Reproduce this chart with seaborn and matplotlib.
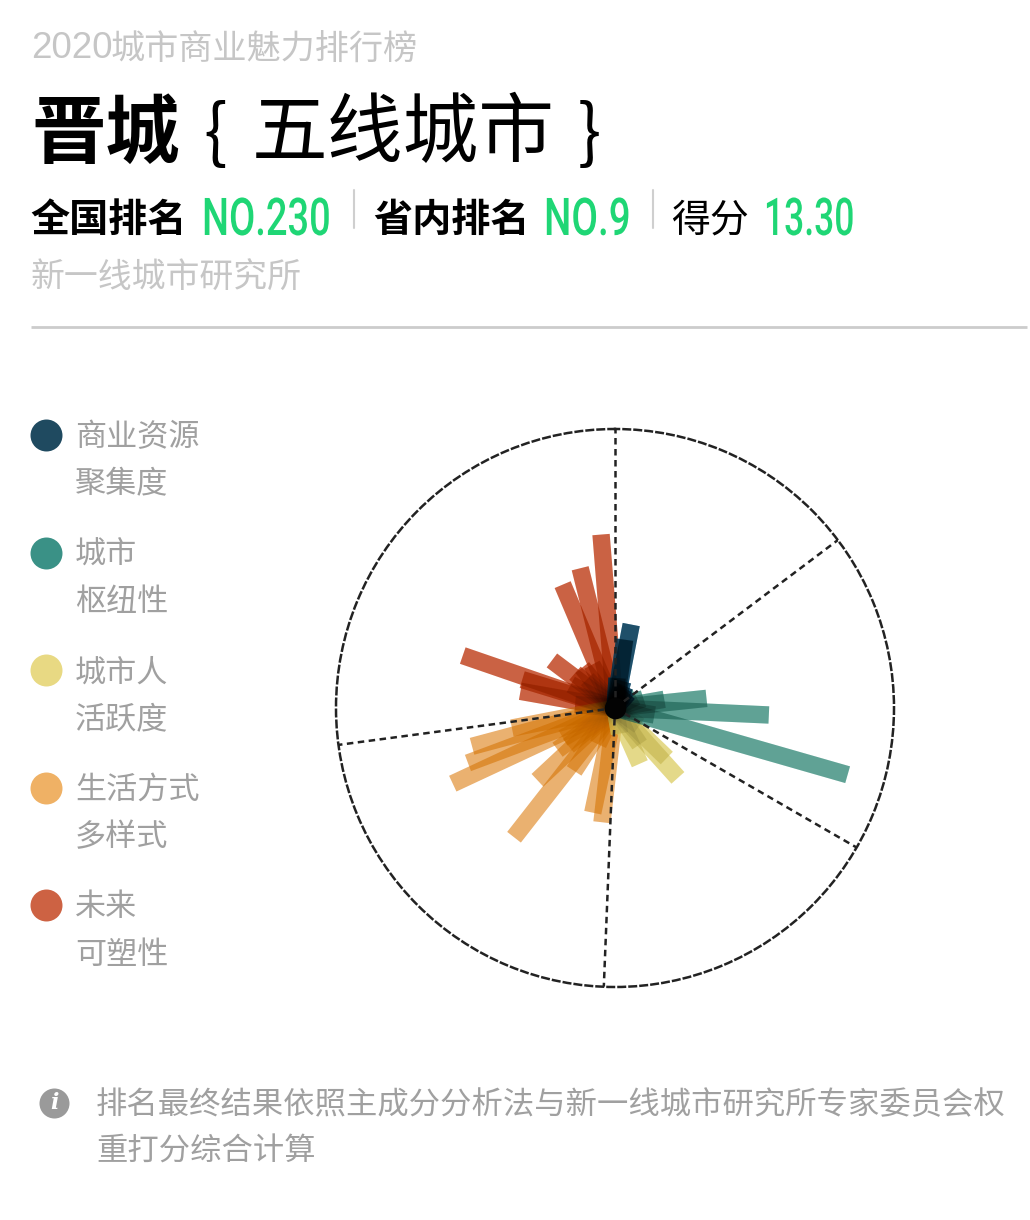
import numpy as np
import pandas as pd
import matplotlib.pyplot as plt
import matplotlib.patheffects as pe
from matplotlib.transforms import Affine2D
import seaborn as sns

plt.switch_backend('Agg')

# bar directions (degrees clockwise from north) and lengths, one pair of lists per dimension
blue_angle = [11, 8, 16, 24, 32, 42, 4]
blue_len = [85, 69, 28, 24, 22, 20, 30]
teal_angle = [106, 92.6, 84, 80, 100, 72, 62]
teal_len = [242, 154, 92, 50, 40, 30, 24]
yellow_angle = [138, 134, 156, 146, 126, 170]
yellow_len = [94, 72, 61, 44, 30, 26]
orange_angle = [186.5, 192, 218, 227, 234, 245, 249.5, 255, 259, 205, 231, 240, 213]
orange_len = [115, 107, 164, 106, 71, 179, 157, 148, 105, 40, 60, 60, 75]
red_angle = [289, 287, 280, 307, 337, 346, 355.4, 311, 321, 332, 298, 316, 275]
red_len = [161, 97, 96, 79, 134, 144, 174, 53, 52, 49, 50, 40, 40]
spoke_angle = [0, 53, 120, 182.3, 262.4]

legend_names = [('商业资源', '聚集度'), ('城市', '枢纽性'), ('城市人', '活跃度'),
                ('生活方式', '多样式'), ('未来', '可塑性')]
legend_colors = ['#1f4a60', '#3a9186', '#e8d983', '#efb165', '#cd6243']

GRAY = '#c6c6c6'
TEXT_GRAY = '#a0a0a0'
GREEN = '#1fd675'
R_MAX = 279
BAR_LW = 12.5


class Squeeze(pe.AbstractPathEffect):
    """Condense a text horizontally, there is no condensed font to hand."""

    def __init__(self, sx):
        super().__init__()
        self.sx = sx

    def draw_path(self, renderer, gc, tpath, affine, rgbFace=None):
        renderer.draw_path(gc, tpath, Affine2D().scale(self.sx, 1) + affine, rgbFace)


def bar_table(angles, lengths):
    rows = []
    for i, (a, r) in enumerate(zip(angles, lengths)):
        rows.append({'bar': i, 'theta': np.deg2rad(a), 'r': 0})
        rows.append({'bar': i, 'theta': np.deg2rad(a), 'r': r})
    return pd.DataFrame(rows)


sns.set_theme(style='white')
plt.rcParams['font.family'] = ['Noto Sans CJK SC', 'DejaVu Sans']

fig = plt.figure(figsize=(10.3, 12.2), dpi=100)

# polar chart, one data unit = one pixel
ax = fig.add_axes([336 / 1030, 1 - 987 / 1220, 558 / 1030, 558 / 1220], projection='polar')
ax.set_theta_zero_location('N')
ax.set_theta_direction(-1)

# angles, lengths, colour, colour alpha, shade alpha
layers = [
    (red_angle, red_len, '#d73100', 0.7, 0.1),
    (orange_angle, orange_len, '#e27800', 0.55, 0.02),
    (yellow_angle, yellow_len, '#f6e469', 0.7, 0.08),
    (teal_angle, teal_len, '#41b69f', 0.7, 0.2),
    (blue_angle, blue_len, '#0976b1', 0.8, 0.45),
]

# colours first, then a black pass over every bar so overlaps multiply down
for angles, lengths, color, alpha, shade in layers:
    sns.lineplot(data=bar_table(angles, lengths), x='theta', y='r', units='bar', estimator=None,
                 sort=False, color=color, alpha=alpha, lw=BAR_LW, solid_capstyle='butt', ax=ax,
                 legend=False)
for angles, lengths, color, alpha, shade in layers:
    sns.lineplot(data=bar_table(angles, lengths), x='theta', y='r', units='bar', estimator=None,
                 sort=False, color='black', alpha=shade, lw=BAR_LW, solid_capstyle='butt', ax=ax,
                 legend=False, zorder=3)

sns.lineplot(data=bar_table(spoke_angle, [R_MAX] * len(spoke_angle)), x='theta', y='r', units='bar',
             estimator=None, sort=False, color='#222222', lw=1.8, ls=(0, (2.6, 1.8)), ax=ax,
             legend=False, zorder=4)

# black core where all the bars pile up
sns.scatterplot(x=[0], y=[0], s=240, color='#030303', linewidth=0, ax=ax, zorder=5, legend=False)

ax.set_rmax(R_MAX)
ax.set_rmin(0)
ax.set_xticks([])
ax.set_yticks([])
ax.set_xlabel('')
ax.set_ylabel('')
ax.grid(False)
ax.spines['polar'].set_linestyle((0, (2.6, 1.8)))
ax.spines['polar'].set_linewidth(1.8)
ax.spines['polar'].set_edgecolor('#222222')

# overlay in image pixels for header, legend and footer
page = fig.add_axes([0, 0, 1, 1], facecolor='none')
page.set_xlim(0, 1030)
page.set_ylim(1220, 0)
page.axis('off')


def put(x, y, s, size, color='black', weight='normal', **kw):
    page.text(x, y, s, fontsize=size, color=color, fontweight=weight, ha='left', va='center', **kw)


def put_number(x, y, s, sx):
    page.text(x, y, s, fontsize=37.5, color=GREEN, family='Roboto', fontweight='medium', ha='left',
              va='center', path_effects=[Squeeze(sx)])


put(31, 49, '2020', 26.5, GRAY, family='Liberation Sans')
put(111, 50, '城市商业魅力排行榜', 24.6, GRAY, 'light')
put(31, 135, '晋城', 53.5, weight='bold')
put(203, 135, '{', 50, weight='light')
put(252, 135, '五线城市', 54.5, weight='normal')
put(578, 135, '}', 50, weight='light')

put(30, 220, '全国排名', 28.2, weight='bold')
put_number(202, 221, 'NO.230', 0.73)
put(373, 220, '省内排名', 28.2, weight='bold')
put_number(544, 221, 'NO.9', 0.74)
put(671, 220, '得分', 28)
put_number(764, 221, '13.30', 0.68)
for x in [354, 653]:
    page.plot([x, x], [190, 228], color='#cfcfcf', lw=1.5)

put(31, 278, '新一线城市研究所', 24.4, GRAY, 'light')
page.plot([31, 1027], [327, 327], color='#cccccc', lw=2, solid_capstyle='butt')

for i, (lines, color) in enumerate(zip(legend_names, legend_colors)):
    y = 435 + i * 117.5
    page.scatter([46], [y], s=530, color=color, linewidth=0)
    put(75, y + 3, lines[0], 22.4, TEXT_GRAY)
    put(75, y + 50, lines[1], 22.4, TEXT_GRAY)

page.scatter([54], [1103], s=467, color='#9a9a9a', linewidth=0)
page.text(54, 1103, 'i', fontsize=16, color='white', fontweight='bold', ha='center', va='center',
          family=['DejaVu Serif'], style='italic')
put(96, 1105, '排名最终结果依照主成分分析法与新一线城市研究所专家委员会权', 22.55, TEXT_GRAY)
put(96, 1152, '重打分综合计算', 22.55, TEXT_GRAY)

fig.savefig('out.png', dpi=100, facecolor='white')
plt.close(fig)
